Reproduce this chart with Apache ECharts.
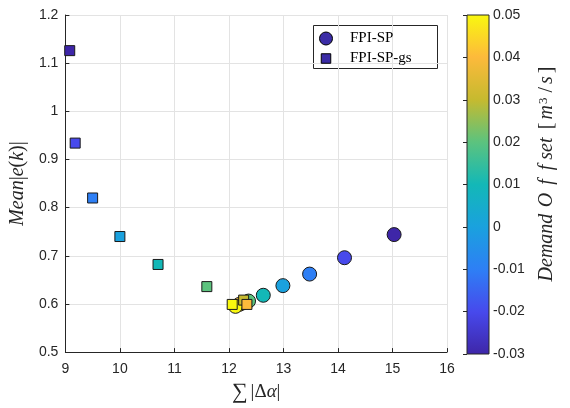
<!DOCTYPE html>
<html>
<head>
<meta charset="utf-8">
<script src="https://cdn.jsdelivr.net/npm/echarts@6/dist/echarts.min.js"></script>
<style>
  html, body { margin: 0; padding: 0; background: #fff; }
  #chart { width: 570px; height: 408px; }
</style>
</head>
<body>
<div id="chart"></div>
<script>
// Demand offset values shared by both methods (m^3/s)
const demandOffset = [-0.03, -0.02, -0.01, 0, 0.01, 0.02, 0.03, 0.04, 0.05];

// FPI-SP: total control effort vs. mean absolute error
const fpiSpEffort = [15.03, 14.12, 13.48, 12.99, 12.63, 12.36, 12.25, 12.19, 12.12];
const fpiSpError  = [0.744, 0.696, 0.662, 0.638, 0.618, 0.606, 0.602, 0.599, 0.595];

// FPI-SP-gs
const fpiSpGsEffort = [9.08, 9.18, 9.50, 10.00, 10.70, 11.595, 12.27, 12.33, 12.06];
const fpiSpGsError  = [1.126, 0.934, 0.820, 0.740, 0.682, 0.636, 0.608, 0.599, 0.599];

// Axis ticks
const xTicks = [9, 10, 11, 12, 13, 14, 15, 16];
const yTicks = [0.5, 0.6, 0.7, 0.8, 0.9, 1.0, 1.1, 1.2];
const cTicks = [-0.03, -0.02, -0.01, 0, 0.01, 0.02, 0.03, 0.04, 0.05];

// parula-like colour scale
const parula = ['#3e26a8', '#4749ec', '#2e7ff5', '#1aa1de', '#13b8b7', '#5cc37e', '#c6ba2f', '#fdba3b', '#f9f80f'];

const ink = '#262626';
const gridColor = '#e3e3e3';
const sans = 'Liberation Sans, Arial, sans-serif';
const serif = 'Liberation Serif, Times New Roman, serif';

function triples(xs, ys, cs) {
  return xs.map((x, i) => [x, ys[i], cs[i]]);
}

const mathRich = (size) => ({
  n: { fontFamily: serif, fontSize: size, color: ink, fill: ink },
  i: { fontFamily: serif, fontStyle: 'italic', fontSize: size, color: ink, fill: ink }
});

const chart = echarts.init(document.getElementById('chart'), null, { renderer: 'canvas' });

const gradStops = parula.map((c, i) => ({ offset: 1 - i / (parula.length - 1), color: c }));

chart.setOption({
  animation: false,
  backgroundColor: '#fff',
  grid: [
    { left: 65, right: 123, top: 15, bottom: 54, containLabel: false },
    { left: 467, width: 22, top: 15, bottom: 54, containLabel: false }
  ],
  xAxis: [
    {
      type: 'value', gridIndex: 0,
      min: xTicks[0], max: xTicks[xTicks.length - 1], interval: 1,
      axisLine: { show: true, onZero: false, lineStyle: { color: ink, width: 1 } },
      axisTick: { show: true, inside: true, length: 4, lineStyle: { color: ink } },
      axisLabel: { color: ink, fontFamily: sans, fontSize: 14, margin: 10 },
      splitLine: { show: true, lineStyle: { color: gridColor, width: 1 } },
      name: '{s|∑}{n||Δ}{i|α}{n||}',
      nameLocation: 'middle', nameGap: 22,
      nameTextStyle: {
        rich: Object.assign(mathRich(19), {
          s: { fontFamily: serif, fontSize: 22, color: ink, padding: [0, 3, 0, 0] }
        })
      }
    },
    {
      type: 'value', gridIndex: 1, min: 0, max: 1, show: false
    }
  ],
  yAxis: [
    {
      type: 'value', gridIndex: 0,
      min: yTicks[0], max: yTicks[yTicks.length - 1], interval: 0.1,
      axisLine: { show: true, onZero: false, lineStyle: { color: ink, width: 1 } },
      axisTick: { show: true, inside: true, length: 4, lineStyle: { color: ink } },
      axisLabel: {
        color: ink, fontFamily: sans, fontSize: 14, margin: 7,
        formatter: v => String(+v.toFixed(1))
      },
      splitLine: { show: true, lineStyle: { color: gridColor, width: 1 } },
      name: '{i|Mean}{n||}{i|e}{n|(}{i|k}{n|)|}',
      nameLocation: 'middle', nameGap: 31, nameRotate: 90,
      nameTextStyle: { rich: mathRich(20) }
    },
    {
      type: 'value', gridIndex: 1, position: 'right',
      min: cTicks[0], max: cTicks[cTicks.length - 1], interval: 0.01,
      axisLine: { show: false },
      axisTick: { show: true, inside: true, length: 4, lineStyle: { color: ink } },
      axisLabel: {
        color: ink, fontFamily: sans, fontSize: 14, margin: 4,
        formatter: v => Math.abs(v) < 1e-9 ? '0' : v.toFixed(2)
      },
      splitLine: { show: false }
    }
  ],
  visualMap: {
    type: 'continuous', show: false,
    min: cTicks[0], max: cTicks[cTicks.length - 1],
    dimension: 2, seriesIndex: [0, 1],
    inRange: { color: parula }
  },
  legend: {
    orient: 'vertical', left: 319, top: 31,
    itemWidth: 38, itemHeight: 13, itemGap: 5,
    padding: 0,
    textStyle: { fontFamily: serif, fontSize: 15, color: '#000', lineHeight: 13 },
    data: [
      { name: 'FPI-SP', icon: 'circle', itemStyle: { color: '#3b2ca6', borderColor: '#000', borderWidth: 1 } },
      {
        name: 'FPI-SP-gs',
        icon: 'path://M0,0M13,13M1.75,1.75L11.25,1.75L11.25,11.25L1.75,11.25Z',
        itemStyle: { color: '#3b2ca6', borderColor: '#000', borderWidth: 1 }
      }
    ]
  },
  graphic: [
    {
      type: 'rect', z: -1,
      shape: { x: 313.5, y: 25.5, width: 124, height: 43 },
      style: { fill: '#fff', stroke: ink, lineWidth: 1 }
    },
    {
      type: 'text',
      x: 547, y: 174, rotation: Math.PI / 2,
      style: {
        text: '{i|Demand} {o|O}{f|f}{f|f}{i|set} {b|[}{i|m}{sup|3}{sl|/}{i|s}{e|]}',
        align: 'center', verticalAlign: 'middle',
        rich: Object.assign(mathRich(20), {
          o: { fontFamily: serif, fontStyle: 'italic', fontSize: 20, fill: ink, padding: [0, 4, 0, 3] },
          f: { fontFamily: serif, fontStyle: 'italic', fontSize: 20, fill: ink, padding: [0, 5, 0, 4] },
          b: { fontFamily: serif, fontSize: 20, fill: ink, padding: [0, 3, 0, 5] },
          e: { fontFamily: serif, fontSize: 20, fill: ink, padding: [0, 0, 0, 3] },
          sl: { fontFamily: serif, fontSize: 20, fill: ink, padding: [0, 3, 0, 3] },
          sup: { fontFamily: serif, fontSize: 13, fill: ink, verticalAlign: 'top', lineHeight: 12, padding: [0, 2, 0, 1] }
        })
      }
    }
  ],
  series: [
    {
      name: 'FPI-SP', type: 'scatter', xAxisIndex: 0, yAxisIndex: 0,
      symbol: 'circle', symbolSize: 14,
      itemStyle: { borderColor: '#1a1a1a', borderWidth: 1, opacity: 1 },
      data: triples(fpiSpEffort, fpiSpError, demandOffset), z: 3
    },
    {
      name: 'FPI-SP-gs', type: 'scatter', xAxisIndex: 0, yAxisIndex: 0,
      symbol: 'rect', symbolSize: 10,
      itemStyle: { borderColor: '#1a1a1a', borderWidth: 1, opacity: 1 },
      data: triples(fpiSpGsEffort, fpiSpGsError, demandOffset), z: 4
    },
    {
      name: 'colorbar', type: 'custom', xAxisIndex: 1, yAxisIndex: 1,
      silent: true, z: 1,
      data: [[0]],
      renderItem: function (params, api) {
        const top = api.coord([0, cTicks[cTicks.length - 1]]);
        const bottom = api.coord([1, cTicks[0]]);
        return {
          type: 'rect',
          shape: { x: top[0], y: top[1], width: bottom[0] - top[0], height: bottom[1] - top[1] },
          style: {
            fill: new echarts.graphic.LinearGradient(0, 0, 0, 1, gradStops),
            stroke: ink, lineWidth: 1
          }
        };
      }
    }
  ]
});
</script>
</body>
</html>
